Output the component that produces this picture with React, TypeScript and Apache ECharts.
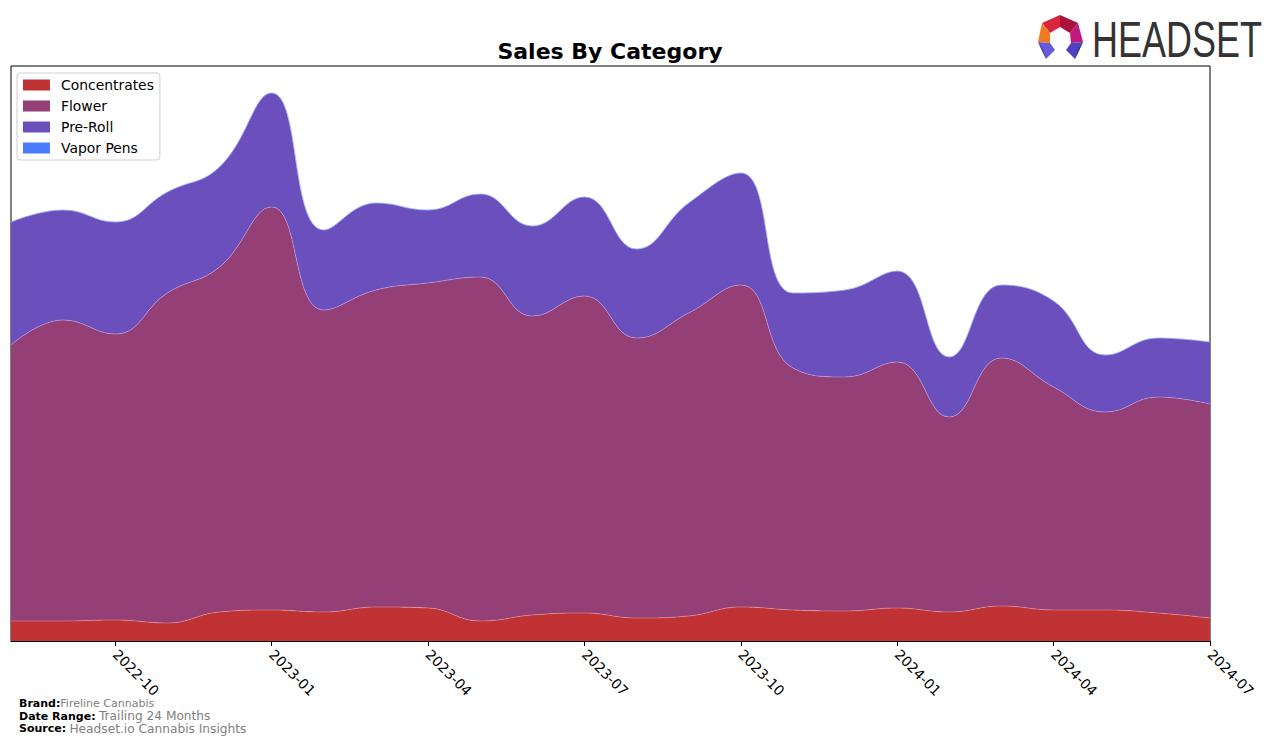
import React, { useEffect, useRef } from "react";
import * as echarts from "echarts";

const months = [
  "2022-08", "2022-09", "2022-10", "2022-11", "2022-12", "2023-01",
  "2023-02", "2023-03", "2023-04", "2023-05", "2023-06", "2023-07",
  "2023-08", "2023-09", "2023-10", "2023-11", "2023-12", "2024-01",
  "2024-02", "2024-03", "2024-04", "2024-05", "2024-06", "2024-07",
];
const concentrates = [20, 20, 21, 18, 29, 31, 29, 34, 33, 20, 26, 28, 23, 25, 34, 31, 30, 33, 29, 35, 31, 31, 28, 23];
const flower = [276, 301, 286, 330, 345, 403, 302, 317, 325, 344, 299, 317, 280, 303, 322, 242, 234, 246, 195, 248, 223, 198, 216, 214];
const preRoll = [123, 110, 112, 101, 100, 114, 80, 87, 73, 83, 90, 99, 89, 110, 112, 75, 87, 91, 60, 73, 86, 57, 59, 62];
const vaporPens = [0, 0, 0, 0, 0, 0, 0, 0, 0, 0, 0, 0, 0, 0, 0, 0, 0, 0, 0, 0, 0, 0, 0, 0];
const tickLabels = ["2022-10", "2023-01", "2023-04", "2023-07", "2023-10", "2024-01", "2024-04", "2024-07"];

const seriesNames = ["Concentrates", "Flower", "Pre-Roll", "Vapor Pens"];
const colors = ["#c03233", "#953f77", "#6a4fbd", "#4a7cff"];

export default function App() {
  const ref = useRef<HTMLDivElement>(null);
  useEffect(() => {
    if (!ref.current) return;
    const chart = echarts.init(ref.current, undefined, { renderer: "svg" });
    const allData = [concentrates, flower, preRoll, vaporPens];
    const lineColors = [
      "rgba(255,200,200,0.45)",
      "rgba(230,190,240,0.5)",
      "rgba(170,170,255,0.5)",
      "rgba(150,180,255,0.75)",
    ];
    const series = seriesNames.map((name, i) => ({
      name,
      type: "line",
      stack: "total",
      smooth: 0.45,
      symbol: "none",
      data: allData[i],
      lineStyle: { width: 0.8, color: lineColors[i] },
      areaStyle: { color: colors[i], opacity: 1 },
      itemStyle: { color: colors[i] },
      z: 2,
    }));
    const font = "DejaVu Sans";
    const isTick = (idx: number) => tickLabels.includes(months[idx]);
    chart.setOption({
      animation: false,
      color: colors,
      grid: {
        left: 11,
        right: 66,
        top: 66,
        bottom: 104,
        show: true,
        borderColor: "#000",
        borderWidth: 1,
        containLabel: false,
      },
      legend: {
        data: seriesNames.map((n, i) => ({ name: n, itemStyle: { color: colors[i] } })),
        orient: "vertical",
        left: 17,
        top: 73,
        itemWidth: 27,
        itemHeight: 11,
        itemGap: 7,
        icon: "rect",
        padding: [5, 6, 5, 6],
        borderColor: "#d0d0d0",
        borderWidth: 1,
        borderRadius: 3,
        backgroundColor: "rgba(255,255,255,0.85)",
        textStyle: { fontFamily: font, fontSize: 13.9, color: "#000", padding: [0, 0, 0, 6] },
      },
      xAxis: {
        type: "category",
        data: months,
        boundaryGap: false,
        axisLine: { show: true, lineStyle: { color: "#000", width: 1 } },
        axisTick: {
          show: true,
          length: 5,
          lineStyle: { color: "#000" },
          interval: (idx: number) => isTick(idx),
        },
        axisLabel: {
          interval: (idx: number) => isTick(idx),
          rotate: -45,
          margin: 11,
          fontFamily: font,
          fontSize: 14,
          color: "#000",
        },
        splitLine: { show: false },
      },
      yAxis: {
        type: "value",
        min: 0,
        max: 575,
        axisLine: { show: false },
        axisTick: { show: false },
        axisLabel: { show: false },
        splitLine: { show: false },
      },
      series,
      graphic: [
        {
          type: "text",
          x: 610,
          y: 51,
          style: {
            text: "Sales By Category",
            fontFamily: font,
            fontWeight: "bold",
            fontSize: 22,
            fill: "#000",
            textAlign: "center",
            textVerticalAlign: "middle",
          },
        },
        {
          type: "text",
          x: 19,
          y: 703.5,
          style: {
            text: "{b|Brand:}{s|Fireline Cannabis}",
            textVerticalAlign: "middle",
            rich: {
              b: { fontFamily: font, fontWeight: "bold", fontSize: 11, fill: "#000", lineHeight: 12 },
              s: { fontFamily: font, fontSize: 11, fill: "#808080", lineHeight: 12 },
            },
          },
        },
        {
          type: "text",
          x: 19,
          y: 716,
          style: {
            text: "{b|Date Range:} {v|Trailing 24 Months}",
            textVerticalAlign: "middle",
            rich: {
              b: { fontFamily: font, fontWeight: "bold", fontSize: 11, fill: "#000", lineHeight: 12 },
              v: { fontFamily: font, fontSize: 12.2, fill: "#808080", lineHeight: 12 },
            },
          },
        },
        {
          type: "text",
          x: 19,
          y: 728.5,
          style: {
            text: "{b|Source:} {v|Headset.io Cannabis Insights}",
            textVerticalAlign: "middle",
            rich: {
              b: { fontFamily: font, fontWeight: "bold", fontSize: 11, fill: "#000", lineHeight: 12 },
              v: { fontFamily: font, fontSize: 12.2, fill: "#808080", lineHeight: 12 },
            },
          },
        },
        // logo icon
        { type: "polygon", shape: { points: [[1042, 23], [1060, 15], [1060, 27], [1050, 33]] }, style: { fill: "#d9263b" } },
        { type: "polygon", shape: { points: [[1060, 15], [1078, 23], [1070, 33], [1060, 27]] }, style: { fill: "#a8123c" } },
        { type: "polygon", shape: { points: [[1078, 23], [1083, 42], [1071, 43], [1070, 33]] }, style: { fill: "#c01a7c" } },
        { type: "polygon", shape: { points: [[1042, 23], [1050, 33], [1050, 43], [1038, 42]] }, style: { fill: "#f27a22" } },
        { type: "polygon", shape: { points: [[1038, 42], [1050, 43], [1055, 50], [1046, 59]] }, style: { fill: "#6a5ad8" } },
        { type: "polygon", shape: { points: [[1038, 42], [1046, 59], [1043, 50]] }, style: { fill: "#3d2f9c" } },
        { type: "polygon", shape: { points: [[1083, 42], [1071, 43], [1066, 50], [1075, 59]] }, style: { fill: "#4e42c0" } },
        { type: "polygon", shape: { points: [[1083, 42], [1075, 59], [1078, 50]] }, style: { fill: "#2a2080" } },
        {
          type: "text",
          x: 1092,
          y: 15,
          scaleX: 0.72,
          style: {
            text: "HEADSET",
            fontFamily: "Liberation Sans",
            fontSize: 50,
            fill: "#333333",
          },
        },
      ],
    });
    return () => chart.dispose();
  }, []);
  return (
    <div
      ref={ref}
      style={{ position: "fixed", left: 0, top: 0, width: 1276, height: 745, background: "#fff" }}
    />
  );
}
